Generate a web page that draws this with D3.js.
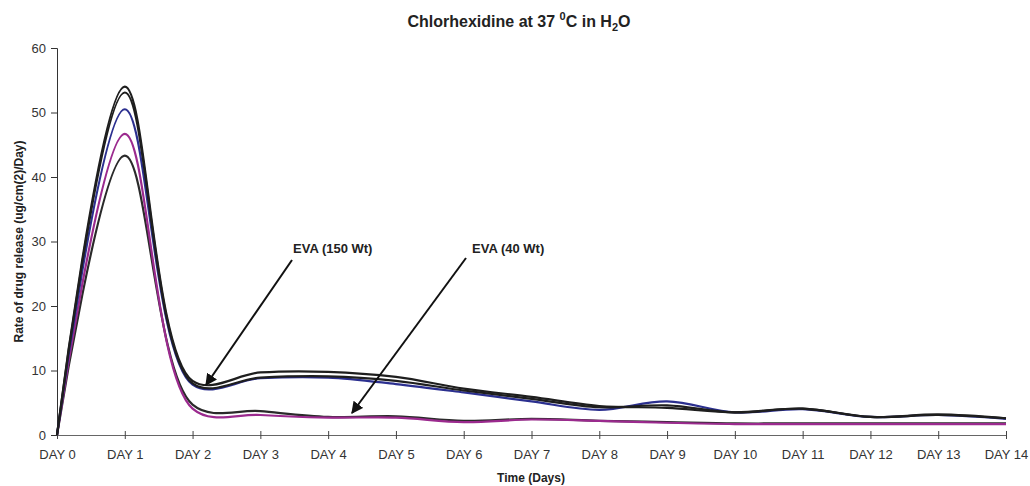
<!DOCTYPE html>
<html>
<head>
<meta charset="utf-8">
<script src="https://cdn.jsdelivr.net/npm/d3@7"></script>
<style>
  body { margin: 0; background: #fff; }
  svg { font-family: "Liberation Sans", Arial, sans-serif; }
</style>
</head>
<body>
<svg width="1030" height="486"></svg>
<script>
const days = d3.range(0, 15);
const dayLabels = days.map(d => `DAY ${d}`);
const yTicks = [0, 10, 20, 30, 40, 50, 60];

// EVA (150 Wt) group
const evaHighA = [0, 54.0, 8.4, 9.7, 9.8, 9.0, 7.2, 5.9, 4.5, 4.2, 3.5, 4.1, 2.8, 3.2, 2.6];
const evaHighB = [0, 53.1, 8.0, 8.9, 9.1, 8.4, 6.9, 5.6, 4.3, 4.6, 3.5, 4.1, 2.8, 3.1, 2.6];
const evaHighBlue = [0, 50.5, 7.8, 8.8, 8.9, 7.9, 6.6, 5.2, 3.9, 5.2, 3.5, 4.0, 2.8, 3.1, 2.5];
// EVA (40 Wt) group
const evaLowMagenta = [0, 46.7, 4.1, 3.1, 2.7, 2.7, 2.0, 2.4, 2.2, 1.9, 1.7, 1.7, 1.7, 1.7, 1.7];
const evaLowBlack = [0, 43.3, 4.7, 3.7, 2.8, 2.9, 2.2, 2.5, 2.2, 2.0, 1.8, 1.8, 1.8, 1.8, 1.8];

const series = [
  {values: evaLowBlack, color: '#2a2a2a'},
  {values: evaLowMagenta, color: '#9b2a8e'},
  {values: evaHighBlue, color: '#2b2f8f'},
  {values: evaHighB, color: '#1e1e1e'},
  {values: evaHighA, color: '#1e1e1e'}
];

const svg = d3.select('svg');
const x = d3.scaleLinear().domain([0, 14]).range([57, 1006]);
const y = d3.scaleLinear().domain([0, 60]).range([435, 48]);

// title
const title = svg.append('text')
  .attr('x', 519).attr('y', 27)
  .attr('text-anchor', 'middle')
  .attr('font-size', 16).attr('font-weight', 'bold').attr('fill', '#222');
title.append('tspan').text('Chlorhexidine at 37 ');
title.append('tspan').attr('font-size', 11).attr('dy', -7).text('0');
title.append('tspan').attr('dy', 7).text('C in H');
title.append('tspan').attr('font-size', 11).attr('dy', 4).text('2');
title.append('tspan').attr('dy', -4).text('O');

// y axis
const yAxis = svg.append('g')
  .attr('transform', `translate(${x(0)},0)`)
  .call(d3.axisLeft(y).tickValues(yTicks).tickSize(6).tickPadding(5));
yAxis.select('.domain').attr('stroke', '#333');
yAxis.selectAll('.tick line').attr('stroke', '#333');
yAxis.selectAll('.tick text').attr('font-size', 13).attr('fill', '#333')
  .attr('font-family', '"Liberation Sans", Arial, sans-serif');

// x axis (ticks cross the axis line)
const xAxis = svg.append('g')
  .attr('transform', `translate(0,${y(0)})`)
  .call(d3.axisBottom(x).tickValues(days).tickFormat((d, i) => dayLabels[i]).tickSize(4).tickPadding(11));
xAxis.select('.domain').attr('stroke', '#666');
xAxis.selectAll('.tick line').attr('stroke', '#444').attr('y1', -4);
xAxis.selectAll('.tick text').attr('font-size', 13).attr('fill', '#333')
  .attr('font-family', '"Liberation Sans", Arial, sans-serif');

// axis titles
svg.append('text')
  .attr('transform', `translate(23,${(y(0) + y(60)) / 2}) rotate(-90)`)
  .attr('text-anchor', 'middle')
  .attr('font-size', 12).attr('font-weight', 'bold').attr('fill', '#222')
  .text('Rate of drug release (ug/cm(2)/Day)');
svg.append('text')
  .attr('x', 531).attr('y', 482)
  .attr('text-anchor', 'middle')
  .attr('font-size', 12).attr('font-weight', 'bold').attr('fill', '#222')
  .text('Time (Days)');

// lines
const line = d3.line()
  .x((d, i) => x(days[i]))
  .y(d => y(d))
  .curve(d3.curveCatmullRom.alpha(0.5));

svg.append('g').selectAll('path')
  .data(series)
  .enter()
  .append('path')
  .attr('d', d => line(d.values))
  .attr('fill', 'none')
  .attr('stroke', d => d.color)
  .attr('stroke-width', 2.2);

// annotations
const defs = svg.append('defs');
defs.append('marker')
  .attr('id', 'arrow')
  .attr('viewBox', '0 -5 10 10')
  .attr('refX', 9).attr('refY', 0)
  .attr('markerWidth', 6).attr('markerHeight', 6)
  .attr('orient', 'auto')
  .append('path')
  .attr('d', 'M0,-5L10,0L0,5Z')
  .attr('fill', '#111');

const notes = [
  {text: 'EVA (150 Wt)', tx: 293, ty: 253, x1: 292, y1: 260, x2: 206, y2: 385},
  {text: 'EVA (40 Wt)', tx: 472, ty: 253, x1: 466, y1: 258, x2: 352, y2: 413}
];
notes.forEach(n => {
  svg.append('text')
    .attr('x', n.tx).attr('y', n.ty)
    .attr('font-size', 13).attr('font-weight', 'bold').attr('fill', '#222')
    .text(n.text);
  svg.append('line')
    .attr('x1', n.x1).attr('y1', n.y1)
    .attr('x2', n.x2).attr('y2', n.y2)
    .attr('stroke', '#111').attr('stroke-width', 2)
    .attr('marker-end', 'url(#arrow)');
});
</script>
</body>
</html>
